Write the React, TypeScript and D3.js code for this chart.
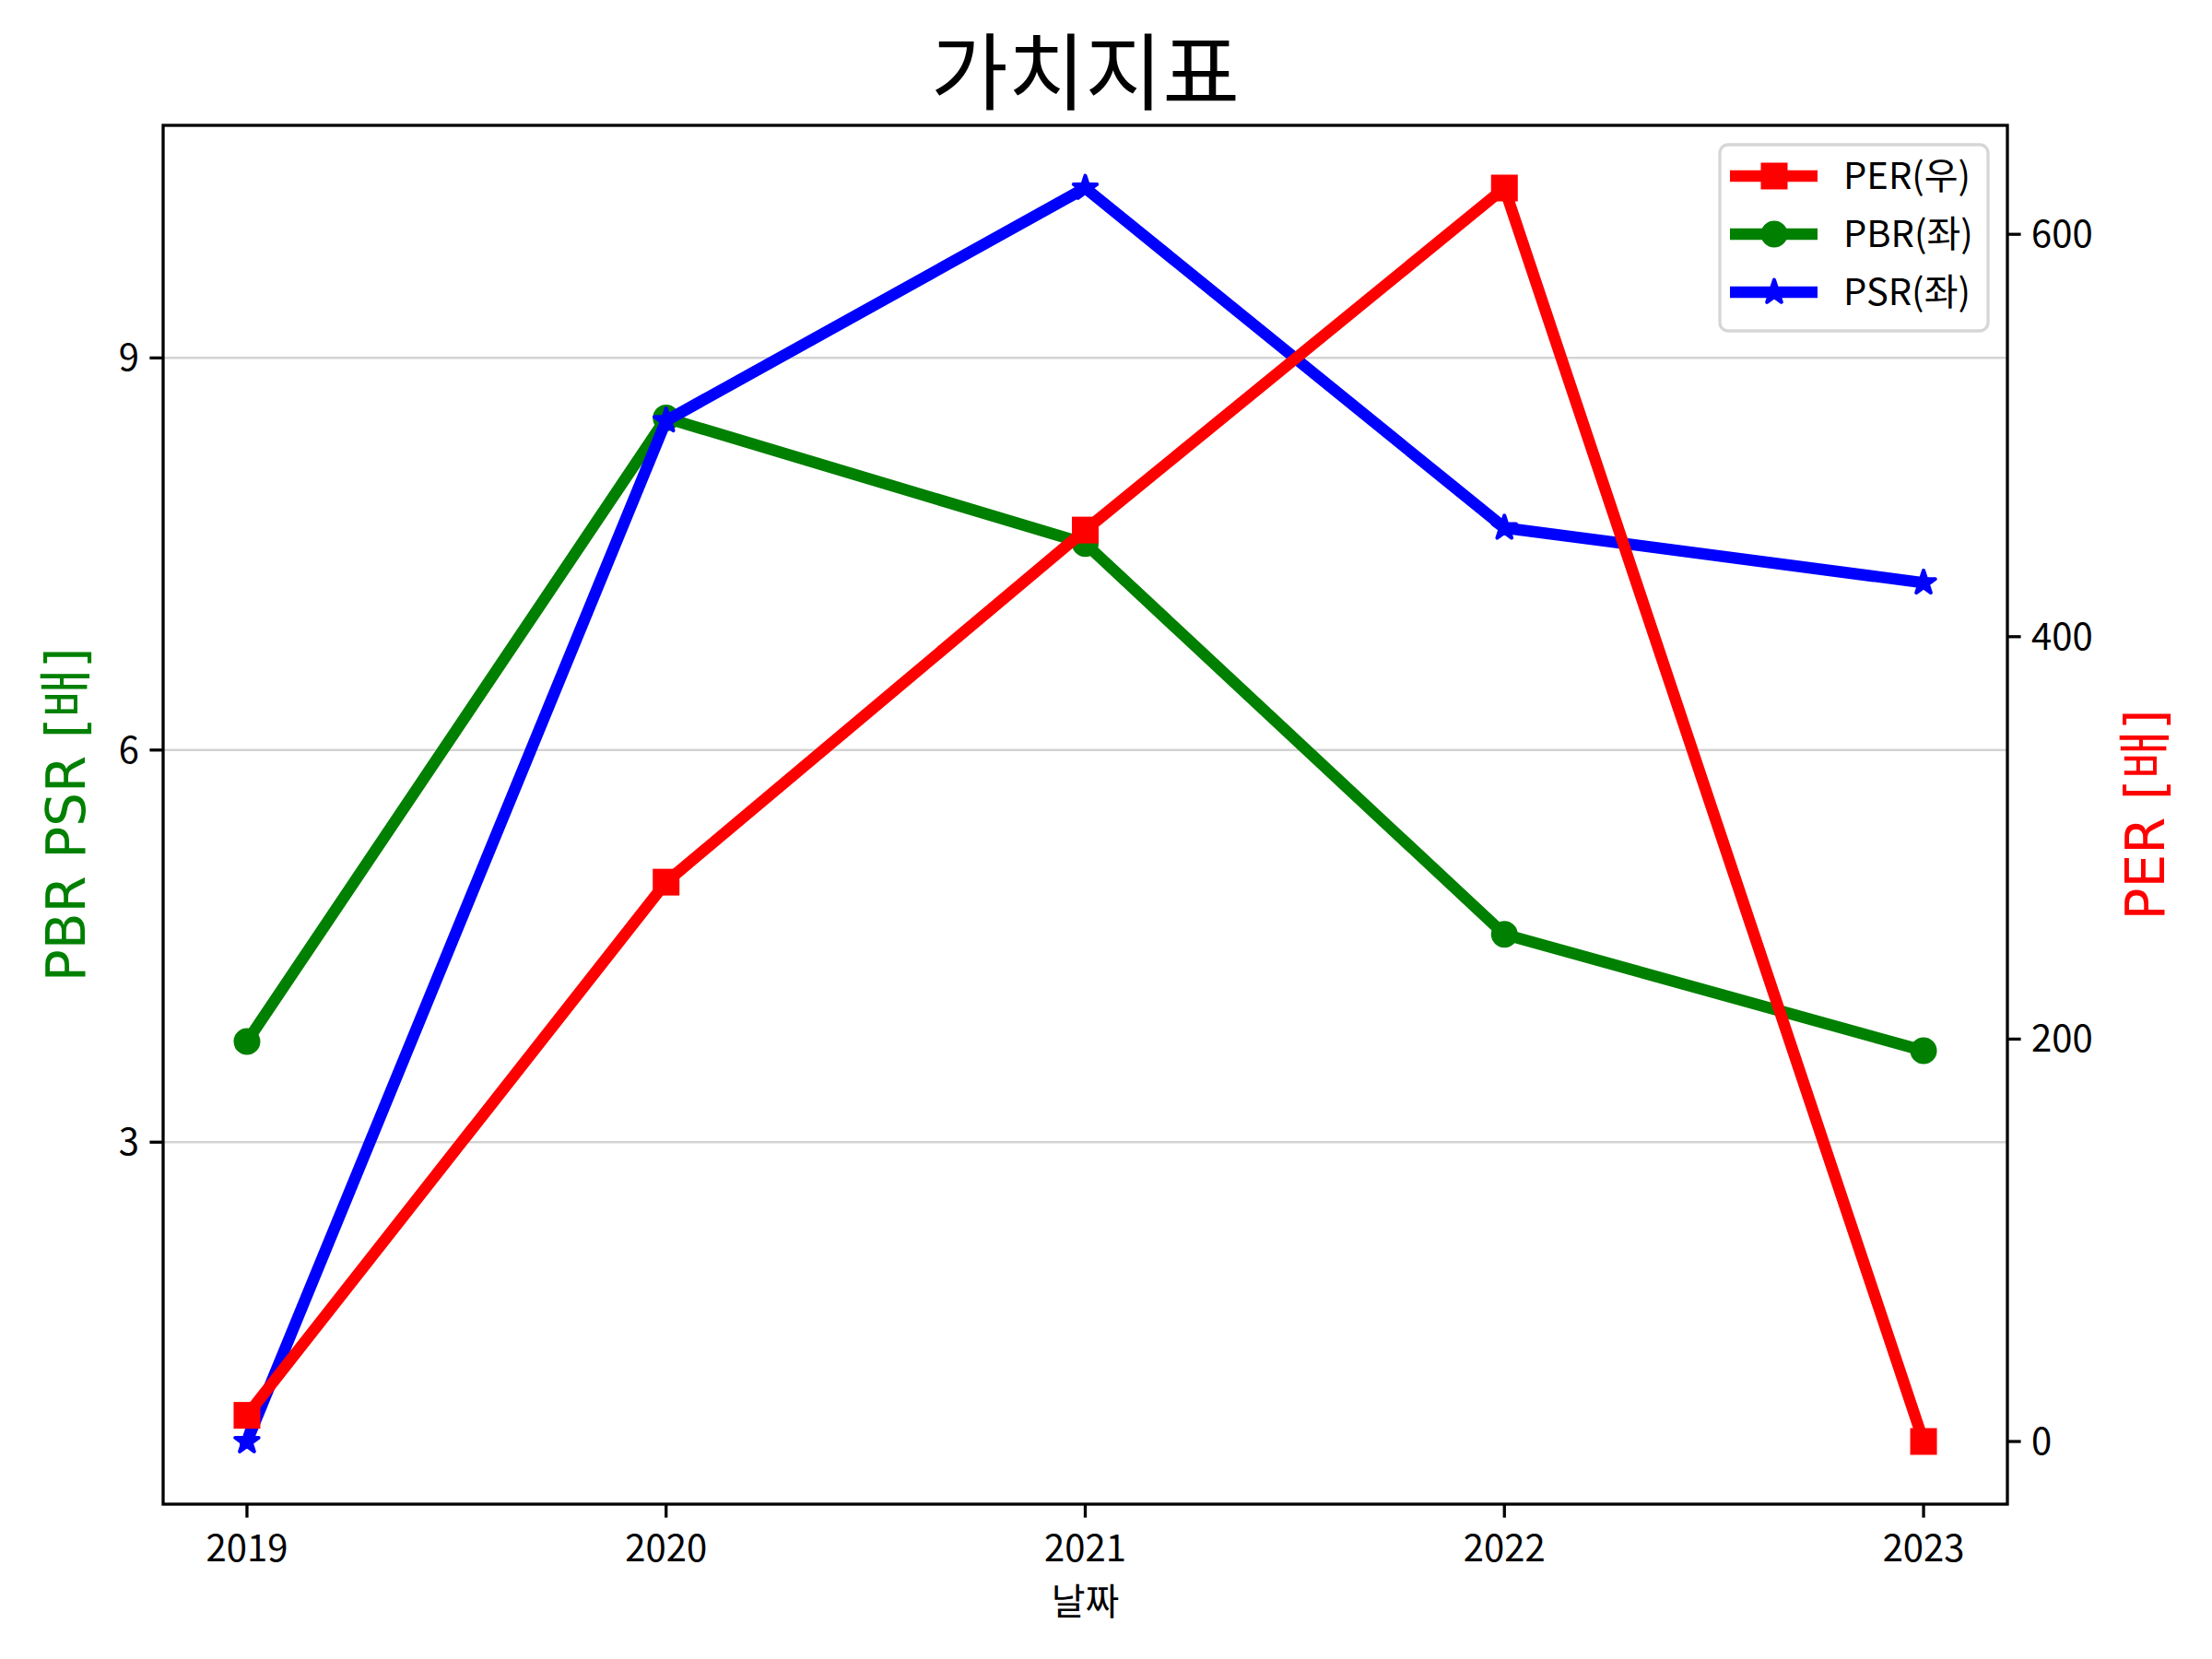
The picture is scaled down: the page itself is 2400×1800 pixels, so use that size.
import * as d3 from 'd3';

const YEARS = [2019, 2020, 2021, 2022, 2023];
const PER = [13, 278, 453, 623, 0];
const PBR = [3.77, 8.54, 7.58, 4.59, 3.7];
const PSR = [0.71, 8.52, 10.3, 7.7, 7.28];
const LEFT_TICKS = [3, 6, 9];
const RIGHT_TICKS = [0, 200, 400, 600];

const W = 2400;
const H = 1800;
const box = { left: 177, right: 2178, top: 136, bottom: 1632 };

const FONT = '"Noto Sans CJK KR", "DejaVu Sans", sans-serif';
const LABEL_FONT = '"DejaVu Sans", "Noto Sans CJK KR", sans-serif';

// matplotlib-style 5% margins
function padded(values: number[]): [number, number] {
  const lo = d3.min(values)!;
  const hi = d3.max(values)!;
  const m = (hi - lo) * 0.05;
  return [lo - m, hi + m];
}

export default function App() {
  const x = d3.scaleLinear().domain(padded(YEARS)).range([box.left, box.right]);
  const yL = d3.scaleLinear().domain(padded([...PBR, ...PSR])).range([box.bottom, box.top]);
  const yR = d3.scaleLinear().domain(padded(PER)).range([box.bottom, box.top]);

  const lineL = d3.line<number>().x((_, i) => x(YEARS[i])).y(d => yL(d));
  const lineR = d3.line<number>().x((_, i) => x(YEARS[i])).y(d => yR(d));
  const star = d3.symbol().type(d3.symbolStar).size(200)()!;

  const lw = 12.5;
  const tick = 14.6;
  const spine = 3.3;

  const legend = [
    { label: 'PER(우)', color: 'red', marker: 'square' },
    { label: 'PBR(좌)', color: 'green', marker: 'circle' },
    { label: 'PSR(좌)', color: 'blue', marker: 'star' },
  ];

  const marker = (kind: string, cx: number, cy: number, color: string, key: string | number) => {
    if (kind === 'square')
      return <rect key={key} x={cx - 12.5} y={cy - 12.5} width={25} height={25} fill={color} stroke={color} strokeWidth={4} />;
    if (kind === 'circle')
      return <circle key={key} cx={cx} cy={cy} r={12.5} fill={color} stroke={color} strokeWidth={4} />;
    return <path key={key} d={star} transform={`translate(${cx},${cy})`} fill={color} stroke={color} strokeWidth={4} strokeLinejoin="round" />;
  };

  return (
    <svg width={W} height={H} style={{ position: 'absolute', left: 0, top: 0, background: '#fff' }} fontFamily={FONT}>
      <rect width={W} height={H} fill="#fff" />

      {/* grid from left axis */}
      {LEFT_TICKS.map(t => (
        <line key={t} x1={box.left} x2={box.right} y1={yL(t)} y2={yL(t)} stroke="#d3d3d3" strokeWidth={2.5} />
      ))}

      {/* left axis series */}
      <path d={lineL(PBR)!} fill="none" stroke="green" strokeWidth={lw} strokeLinejoin="round" strokeLinecap="square" />
      {PBR.map((v, i) => marker('circle', x(YEARS[i]), yL(v), 'green', `g${i}`))}
      <path d={lineL(PSR)!} fill="none" stroke="blue" strokeWidth={lw} strokeLinejoin="round" strokeLinecap="square" />
      {PSR.map((v, i) => marker('star', x(YEARS[i]), yL(v), 'blue', `b${i}`))}

      {/* right axis series */}
      <path d={lineR(PER)!} fill="none" stroke="red" strokeWidth={lw} strokeLinejoin="round" strokeLinecap="square" />
      {PER.map((v, i) => marker('square', x(YEARS[i]), yR(v), 'red', `r${i}`))}

      {/* spines */}
      <rect x={box.left} y={box.top} width={box.right - box.left} height={box.bottom - box.top} fill="none" stroke="#000" strokeWidth={spine} />

      {/* x ticks */}
      {YEARS.map(yr => (
        <g key={yr} transform={`translate(${x(yr)},${box.bottom})`}>
          <line y2={tick} stroke="#000" strokeWidth={spine} />
          <text y={62} textAnchor="middle" fontSize={40}>{yr}</text>
        </g>
      ))}

      {/* left ticks */}
      {LEFT_TICKS.map(t => (
        <g key={t} transform={`translate(${box.left},${yL(t)})`}>
          <line x2={-tick} stroke="#000" strokeWidth={spine} />
          <text x={-26} dy="0.35em" textAnchor="end" fontSize={40}>{t}</text>
        </g>
      ))}

      {/* right ticks */}
      {RIGHT_TICKS.map(t => (
        <g key={t} transform={`translate(${box.right},${yR(t)})`}>
          <line x2={tick} stroke="#000" strokeWidth={spine} />
          <text x={26} dy="0.35em" textAnchor="start" fontSize={40}>{t}</text>
        </g>
      ))}

      {/* labels */}
      <text x={(box.left + box.right) / 2} y={112} textAnchor="middle" fontSize={91}>가치지표</text>
      <text x={(box.left + box.right) / 2} y={1752} textAnchor="middle" fontSize={40}>날짜</text>
      <text transform={`translate(92,${(box.top + box.bottom) / 2}) rotate(-90)`} textAnchor="middle" fontSize={58} fill="green" fontFamily={LABEL_FONT}>
        PBR PSR [배]
      </text>
      <text transform={`translate(2348,${(box.top + box.bottom) / 2}) rotate(-90)`} textAnchor="middle" fontSize={58} fill="red" fontFamily={LABEL_FONT}>
        PER [배]
      </text>

      {/* legend */}
      <g transform="translate(1866,157)">
        <rect width={291} height={202} rx={9} fill="#fff" fillOpacity={0.8} stroke="#d6d6d6" strokeWidth={3.3} />
        {legend.map((d, i) => {
          const cy = 34 + i * 63;
          return (
            <g key={d.label}>
              <line x1={11} x2={106} y1={cy} y2={cy} stroke={d.color} strokeWidth={lw} />
              {marker(d.marker, 59, cy, d.color, 'm')}
              <text x={134} y={cy} dy="0.35em" fontSize={40}>{d.label}</text>
            </g>
          );
        })}
      </g>
    </svg>
  );
}
